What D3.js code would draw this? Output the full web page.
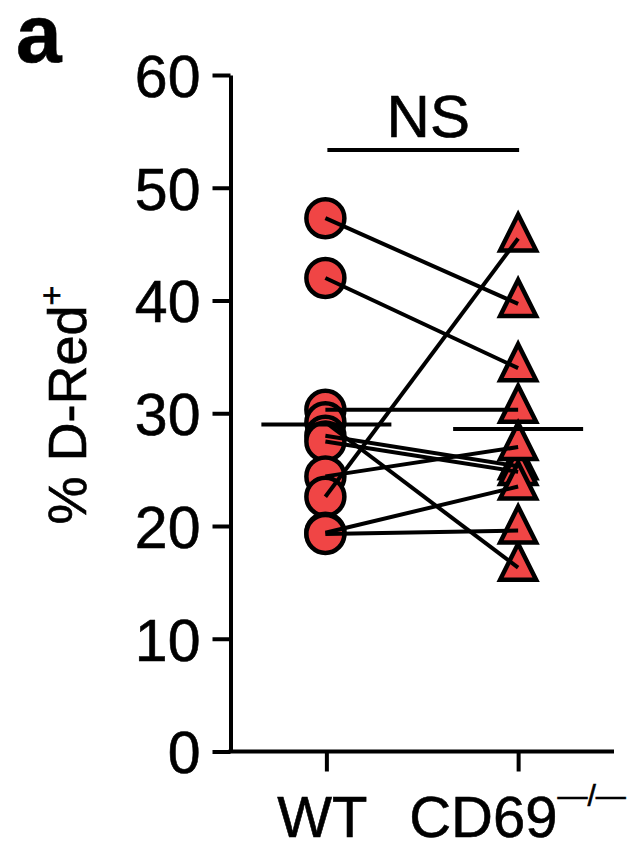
<!DOCTYPE html>
<html><head><meta charset="utf-8">
<script src="https://cdn.jsdelivr.net/npm/d3@7"></script>
<style>body{margin:0;background:#fff}svg{display:block}text{font-family:"Liberation Sans",Arial,Helvetica,sans-serif;fill:#000;stroke:#000;stroke-width:0.6px}</style>
</head><body>
<svg id="c" width="636" height="854"></svg>
<script>
const categories = ["WT", "CD69"];
const wtValues   = [47.3, 42.0, 30.3, 29.2, 28.0, 27.5, 24.4, 22.6, 19.4, 19.3];
const cd69Values = [39.7, 34.0, 30.3, 16.3, 25.3, 24.8, 27.0, 45.5, 23.5, 19.6];
const yTicks = [0, 10, 20, 30, 40, 50, 60];

(function () {
const svg = d3.select("#c");
const pLeft = 230.5, pRight = 614, pTop = 75, pBottom = 751.5;
const red = "#F04545";

const y = d3.scaleLinear().domain([0, 60]).range([pBottom, pTop]);
const x = d3.scalePoint().domain(categories).range([pLeft, pRight]).padding(0.5);

// Y axis
const yAxis = svg.append("g").attr("transform", `translate(${pLeft},0)`)
  .call(d3.axisLeft(y).tickValues(yTicks).tickSize(18).tickPadding(12).tickSizeOuter(0));
yAxis.select(".domain").attr("stroke", "#000").attr("stroke-width", 4);
yAxis.selectAll(".tick line").attr("stroke", "#000").attr("stroke-width", 4);
yAxis.selectAll(".tick text").attr("font-size", 59).attr("dy", "0.36em")
  .attr("font-family", '"Liberation Sans", Arial, sans-serif');

// X axis
const xAxis = svg.append("g").attr("transform", `translate(0,${pBottom})`)
  .call(d3.axisBottom(x).tickSize(20).tickSizeOuter(0).tickFormat(() => ""));
xAxis.select(".domain").attr("stroke", "#000").attr("stroke-width", 4).attr("d", `M${pLeft - 2},0H${pRight}`);
xAxis.selectAll(".tick line").attr("stroke", "#000").attr("stroke-width", 4);

// X labels
const xl = svg.append("g").attr("font-size", 58);
xl.append("text").attr("x", x("WT") - 4).attr("y", 837).attr("text-anchor", "middle").text("WT");
const cdT = xl.append("text").attr("x", x("CD69") - 109).attr("y", 837).attr("text-anchor", "start");
cdT.append("tspan").text("CD69");
cdT.append("tspan").attr("font-size", 30).attr("dy", -31).text("\u2014/\u2014");

// Y label
const yl = svg.append("text").attr("transform", "translate(86,405) rotate(-90)")
  .attr("text-anchor", "middle").attr("font-size", 54);
yl.append("tspan").text("% D-Red");
yl.append("tspan").attr("font-size", 34).attr("dy", -23).text("+");

// Panel letter
svg.append("text").attr("x", 16).attr("y", 62).attr("font-size", 82).attr("font-weight", "bold").text("a");

// Markers
const pairs = wtValues.map((v, i) => ({ wt: v, cd: cd69Values[i] }));
svg.append("g").selectAll("circle").data(wtValues).join("circle")
  .attr("cx", x("WT") - 1).attr("cy", d => y(d)).attr("r", 19)
  .attr("fill", red).attr("stroke", "#000").attr("stroke-width", 4.5);

const triW = 36, triH = 36;
svg.append("g").selectAll("path").data(cd69Values).join("path")
  .attr("transform", d => `translate(${x("CD69")},${y(d)})`)
  .attr("d", `M0,${-triH * 2 / 3}L${triW / 2},${triH / 3}L${-triW / 2},${triH / 3}Z`)
  .attr("fill", red).attr("stroke", "#000").attr("stroke-width", 4.5).attr("stroke-linejoin", "miter");

// Connecting lines
svg.append("g").selectAll("line").data(pairs).join("line")
  .attr("x1", x("WT") - 1).attr("y1", d => y(d.wt))
  .attr("x2", x("CD69")).attr("y2", d => y(d.cd))
  .attr("stroke", "#000").attr("stroke-width", 4);

// Mean lines
const means = [{ c: "WT", m: d3.mean(wtValues) }, { c: "CD69", m: d3.mean(cd69Values) }];
svg.append("g").selectAll("line").data(means).join("line")
  .attr("x1", d => x(d.c) - 65).attr("x2", d => x(d.c) + 65)
  .attr("y1", d => y(d.m)).attr("y2", d => y(d.m))
  .attr("stroke", "#000").attr("stroke-width", 4);

// NS bracket
svg.append("line").attr("x1", x("WT") + 1).attr("x2", x("CD69") + 1).attr("y1", 150).attr("y2", 150)
  .attr("stroke", "#000").attr("stroke-width", 4);
svg.append("text").attr("x", (x("WT") + x("CD69")) / 2 + 6).attr("y", 137).attr("text-anchor", "middle")
  .attr("font-size", 60).text("NS");
})();
</script>
</body></html>
